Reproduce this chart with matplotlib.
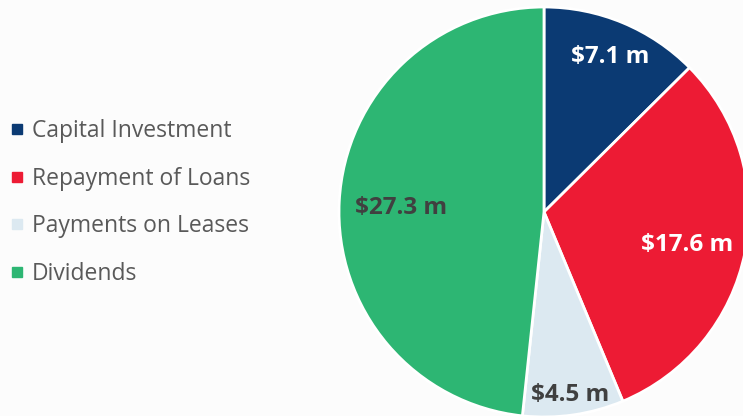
import numpy as np
import matplotlib.pyplot as plt
from matplotlib.lines import Line2D

plt.rcParams['font.family'] = ['Open Sans', 'DejaVu Sans']

categories = ["Capital Investment", "Repayment of Loans", "Payments on Leases", "Dividends"]
values = [7.1, 17.6, 4.5, 27.3]
value_labels = ["$7.1 m", "$17.6 m", "$4.5 m", "$27.3 m"]
colors = ["#0b3a73", "#ed1b34", "#dce9f1", "#2db673"]
label_colors = ["white", "white", "#404040", "#404040"]
label_dist = [0.84, 0.71, 0.88, 0.70]

W, H = 743, 416
fig = plt.figure(figsize=(W / 100, H / 100), dpi=100)
fig.patch.set_facecolor("#fcfcfc")
ax = fig.add_axes([0, 0, 1, 1])

cx, cy, r = 544, 204, 205
wedges, _ = ax.pie(values, colors=colors, startangle=90, counterclock=False,
                   center=(cx, cy), radius=r, frame=True,
                   wedgeprops=dict(edgecolor="white", linewidth=2))
ax.set_xlim(0, W)
ax.set_ylim(0, H)
ax.set_aspect("equal")
ax.axis("off")

for w, lab, col, d in zip(wedges, value_labels, label_colors, label_dist):
    mid = np.deg2rad((w.theta1 + w.theta2) / 2)
    ax.text(cx + d * r * np.cos(mid), cy + d * r * np.sin(mid) - 4, lab,
            ha="center", va="center", color=col, fontsize=17.5, fontweight="bold")

handles = [Line2D([], [], marker="s", linestyle="none", markersize=7.5,
                  markerfacecolor=c, markeredgecolor=c) for c in colors]
leg = fig.legend(handles, categories, loc="center left", bbox_to_anchor=(-0.013, 0.513),
                 frameon=False, fontsize=16.5, labelspacing=1.03, handlelength=0.5,
                 handletextpad=0.4, labelcolor="#595959")

fig.savefig("out.png", dpi=100, facecolor=fig.get_facecolor())
